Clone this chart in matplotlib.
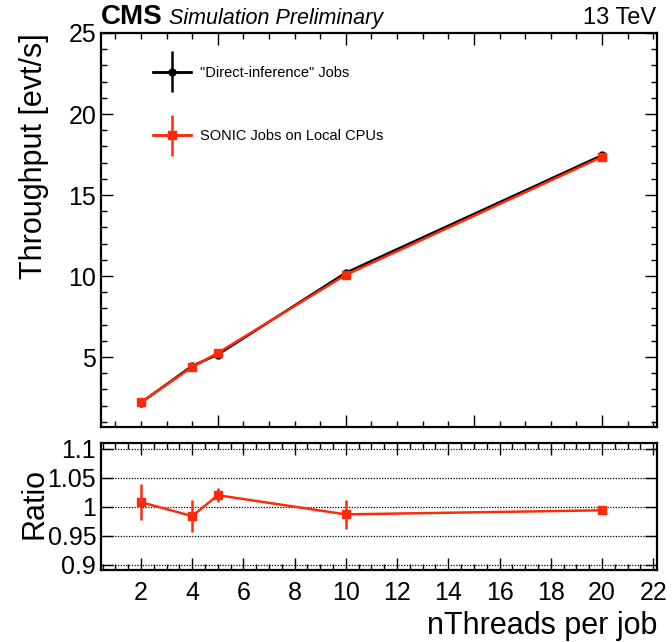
import numpy as np
import matplotlib
matplotlib.use("Agg")
import matplotlib.pyplot as plt
from matplotlib.ticker import MultipleLocator, FixedLocator
from matplotlib.legend_handler import HandlerErrorbar

plt.rcParams["font.family"] = ["Liberation Sans", "DejaVu Sans"]

# ---------------------------------------------------------------------------
# Data
# ---------------------------------------------------------------------------
n_threads = [2, 4, 5, 10, 20]
direct_tp = [2.18, 4.45, 5.15, 10.20, 17.45]
direct_err = [0.03, 0.03, 0.03, 0.05, 0.05]
sonic_tp = [2.20, 4.38, 5.25, 10.07, 17.35]
sonic_err = [0.03, 0.03, 0.03, 0.05, 0.05]
ratio = [1.008, 0.984, 1.020, 0.987, 0.994]
ratio_err = [0.031, 0.028, 0.012, 0.025, 0.004]

ratio_ticks = [0.9, 0.95, 1.0, 1.05, 1.1]
ratio_labels = ["0.9", "0.95", "1", "1.05", "1.1"]

black = "black"
red = "#ff2a0a"

# ---------------------------------------------------------------------------
# Figure layout
# ---------------------------------------------------------------------------
fig = plt.figure(figsize=(6.72, 6.42), dpi=100)
ax = fig.add_axes([0.1503, 0.3349, 0.8274, 0.6137])
rax = fig.add_axes([0.1503, 0.1121, 0.8274, 0.1978])

for a in (ax, rax):
    for s in a.spines.values():
        s.set_linewidth(1.6)
    a.tick_params(which="both", direction="in", top=True, right=True,
                  width=1.0, labelsize=18)
    a.tick_params(which="major", length=8.5)
    a.tick_params(which="minor", length=4.2)
    a.set_xlim(0.44, 22.15)

# ---------------------------------------------------------------------------
# Main panel
# ---------------------------------------------------------------------------
h_direct = ax.errorbar(n_threads, direct_tp, yerr=direct_err, xerr=0,
                       color=black, lw=1.8, marker="o", ms=5, zorder=3,
                       label='"Direct-inference" Jobs')
h_sonic = ax.errorbar(n_threads, sonic_tp, yerr=sonic_err, xerr=0,
                      color=red, lw=1.8, marker="s", ms=6, zorder=4,
                      label="SONIC Jobs on Local CPUs")

ax.set_ylim(0.68, 25)
ax.yaxis.set_major_locator(MultipleLocator(5))
ax.yaxis.set_minor_locator(MultipleLocator(1))
ax.xaxis.set_major_locator(MultipleLocator(5))
ax.xaxis.set_minor_locator(MultipleLocator(1))
ax.tick_params(axis="x", labelbottom=False)
ax.set_ylabel("Throughput [evt/s]", fontsize=22, loc="top")
ax.yaxis.set_label_coords(-0.094, 1.0)

leg = ax.legend(handles=[h_direct, h_sonic], loc="upper left",
                bbox_to_anchor=(0.07, 0.95), frameon=False, fontsize=10.5,
                handlelength=2.6, labelspacing=3.4, handletextpad=0.6,
                handler_map={type(h_direct): HandlerErrorbar(xerr_size=1.4, yerr_size=1.4)})

# header
fig.text(0.1503, 0.962, "CMS", fontsize=20, fontweight="bold", ha="left", va="baseline")
fig.text(0.251, 0.962, "Simulation Preliminary", fontsize=15.5, style="italic",
         ha="left", va="baseline")
fig.text(0.977, 0.962, "13 TeV", fontsize=17, ha="right", va="baseline")

# ---------------------------------------------------------------------------
# Ratio panel
# ---------------------------------------------------------------------------
rax.errorbar(n_threads, ratio, yerr=ratio_err, color=red, lw=1.8,
             marker="s", ms=6, zorder=4)
rax.set_ylim(0.891, 1.110)
rax.yaxis.set_major_locator(FixedLocator(ratio_ticks))
rax.set_yticklabels(ratio_labels)
for v in ratio_ticks:
    rax.axhline(v, color="black", lw=0.9, ls=(0, (1, 1.2)), zorder=1)
rax.xaxis.set_major_locator(MultipleLocator(2))
rax.xaxis.set_minor_locator(MultipleLocator(0.5))
rax.tick_params(axis="x", pad=8)
rax.set_xlabel("nThreads per job", fontsize=22, loc="right", labelpad=4)
rax.set_ylabel("Ratio", fontsize=22)
rax.yaxis.set_label_coords(-0.092, 0.52)

fig.savefig("out.png", dpi=100)
